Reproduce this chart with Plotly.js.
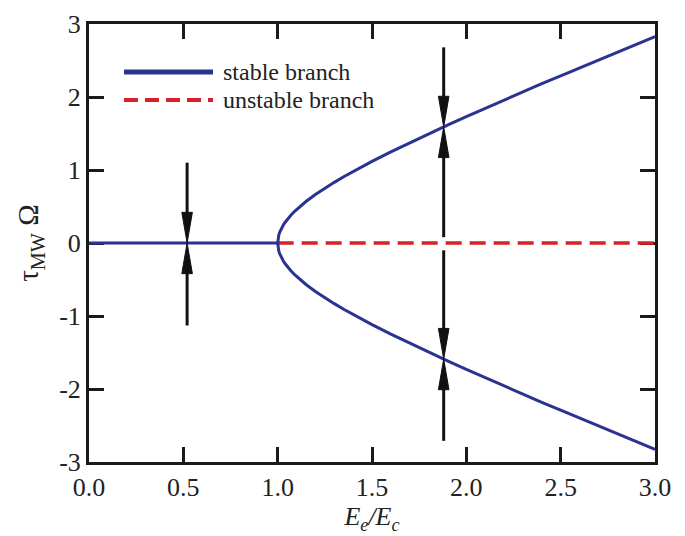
<!DOCTYPE html>
<html>
<head>
<meta charset="utf-8">
<script src="https://cdn.plot.ly/plotly-3.0.1.min.js"></script>
<style>html,body{margin:0;padding:0;background:#fff;}#chart{width:685px;height:536px;}</style>
</head>
<body>
<div id="chart"></div>
<script>
// ---- data ----
const flatX = [0.0, 1.0];
const flatY = [0.0, 0.0];
const branchX = [1.0, 1.001, 1.003, 1.006, 1.01, 1.015, 1.02, 1.03, 1.04, 1.05, 1.07, 1.09, 1.12, 1.15, 1.2, 1.25, 1.3, 1.35, 1.4, 1.45, 1.5, 1.6, 1.7, 1.8, 1.9, 2.0, 2.1, 2.2, 2.3, 2.4, 2.5, 2.6, 2.7, 2.8, 2.9, 3.0];
const upperY  = [0.0, 0.045, 0.077, 0.110, 0.142, 0.174, 0.201, 0.246, 0.285, 0.320, 0.381, 0.435, 0.504, 0.568, 0.663, 0.750, 0.831, 0.908, 0.980, 1.050, 1.118, 1.249, 1.375, 1.497, 1.616, 1.732, 1.847, 1.960, 2.071, 2.182, 2.291, 2.400, 2.508, 2.615, 2.722, 2.828];
const lowerY  = [0.0, -0.045, -0.077, -0.110, -0.142, -0.174, -0.201, -0.246, -0.285, -0.320, -0.381, -0.435, -0.504, -0.568, -0.663, -0.750, -0.831, -0.908, -0.980, -1.050, -1.118, -1.249, -1.375, -1.497, -1.616, -1.732, -1.847, -1.960, -2.071, -2.182, -2.291, -2.400, -2.508, -2.615, -2.722, -2.828];
const unstableX = [1.0, 3.0];
const unstableY = [0.0, 0.0];
// arrows: x position, start value, tip value
const arrowX    = [0.52, 0.52, 1.88, 1.88, 1.88, 1.88];
const arrowFrom = [1.10, -1.13, 2.68, 0.08, -0.10, -2.71];
const arrowTo   = [0.0, 0.0, 1.59, 1.59, -1.59, -1.59];
const legendNames = ['stable branch', 'unstable branch'];

const blue = '#2a3391';
const red = '#d9202a';
const headLen = 0.42;   // in y units
const headHalf = 0.028; // in x units

const shaftX = [], shaftY = [], headX = [], headY = [];
for (let i = 0; i < arrowX.length; i++) {
  const dir = Math.sign(arrowTo[i] - arrowFrom[i]);
  const base = arrowTo[i] - dir * headLen;
  shaftX.push(arrowX[i], arrowX[i], null);
  shaftY.push(arrowFrom[i], base + dir * 0.05, null);
  headX.push(arrowX[i] - headHalf, arrowX[i], arrowX[i] + headHalf, arrowX[i] - headHalf, null);
  headY.push(base, arrowTo[i], base, base, null);
}

const traces = [
  {x: unstableX, y: unstableY, mode: 'lines', line: {color: red, width: 3.5, dash: '16px,8px'}, hoverinfo: 'skip'},
  {x: flatX, y: flatY, mode: 'lines', line: {color: blue, width: 3}, hoverinfo: 'skip'},
  {x: branchX, y: upperY, mode: 'lines', line: {color: blue, width: 3}, hoverinfo: 'skip'},
  {x: branchX, y: lowerY, mode: 'lines', line: {color: blue, width: 3}, hoverinfo: 'skip'},
  {x: shaftX, y: shaftY, mode: 'lines', line: {color: '#111', width: 3}, hoverinfo: 'skip'},
  {x: headX, y: headY, mode: 'lines', fill: 'toself', fillcolor: '#111', line: {color: '#111', width: 1}, hoverinfo: 'skip'}
];

const fontFam = '"Liberation Serif", "DejaVu Serif", serif';
const axisCommon = {
  showgrid: false, zeroline: false, showline: true, linecolor: '#1a1a1a', linewidth: 3,
  mirror: 'ticks', ticks: 'inside', ticklen: 15, tickwidth: 3, tickcolor: '#1a1a1a',
  layer: 'below traces',
  tickfont: {family: fontFam, size: 26, color: '#222'}
};

const layout = {
  width: 685, height: 536,
  margin: {l: 89, r: 30, t: 24, b: 74},
  paper_bgcolor: '#fff', plot_bgcolor: '#fff',
  showlegend: false,
  xaxis: Object.assign({}, axisCommon, {
    range: [0, 3], tickvals: [0, 0.5, 1, 1.5, 2, 2.5, 3], ticktext: ['0.0','0.5','1.0','1.5','2.0','2.5','3.0'],
    title: {text: '<i>E<sub>e</sub>/E<sub>c</sub></i>', font: {family: fontFam, size: 26, color: '#222'}, standoff: 6}
  }),
  yaxis: Object.assign({}, axisCommon, {
    range: [-3, 3], tickvals: [-3,-2,-1,0,1,2,3], ticktext: ['-3','-2','-1','0','1','2','3'],
    title: {text: 'τ<sub>MW</sub> Ω', font: {family: fontFam, size: 29, color: '#222'}, standoff: 12}
  }),
  shapes: [
    {type: 'line', xref: 'paper', yref: 'paper', x0: (124-89)/566, x1: (213-89)/566, y0: (462-72)/438, y1: (462-72)/438, line: {color: blue, width: 5}},
    {type: 'line', xref: 'paper', yref: 'paper', x0: (124-89)/566, x1: (213-89)/566, y0: (462-100)/438, y1: (462-100)/438, line: {color: red, width: 4, dash: '14px,7px'}}
  ],
  annotations: [
    {xref: 'paper', yref: 'paper', x: (221-89)/566, y: (462-72)/438, xanchor: 'left', yanchor: 'middle', showarrow: false, text: legendNames[0], font: {family: fontFam, size: 24, color: '#222'}},
    {xref: 'paper', yref: 'paper', x: (221-89)/566, y: (462-100)/438, xanchor: 'left', yanchor: 'middle', showarrow: false, text: legendNames[1], font: {family: fontFam, size: 24, color: '#222'}}
  ]
};

Plotly.newPlot('chart', traces, layout, {displayModeBar: false, staticPlot: true});
</script>
</body>
</html>
